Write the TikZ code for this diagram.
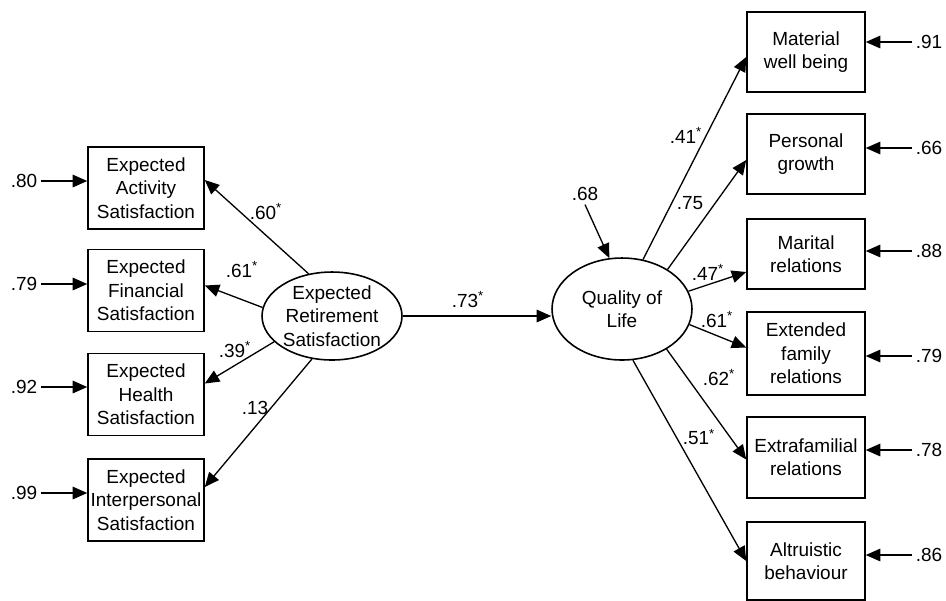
\documentclass[tikz,border=0pt]{standalone}
\usepackage{fontspec}
\setmainfont{Liberation Sans}
\usetikzlibrary{shapes.geometric,arrows.meta,calc}

\newcommand{\signif}{\textsuperscript{*}}

\begin{document}
\begin{tikzpicture}[
    x=0.02cm, y=-0.02cm,
    font=\fontsize{10.8}{13.3}\selectfont,
    >={Triangle[length=0.29cm,width=0.25cm]},
    conn/.style={->, line width=0.75pt},
    obs/.style={draw, line width=0.9pt, align=center, inner sep=1pt,
      minimum width=2.32cm, minimum height=1.64cm},
    obsr/.style={obs, minimum width=2.36cm, minimum height=1.6cm},
    latent/.style={draw, ellipse, line width=0.9pt, align=center, inner sep=0pt},
    coef/.style={inner sep=1pt},
    err/.style={inner sep=2pt}
  ]
  \useasboundingbox (0,0) rectangle (946,600);

  % Latent variables
  \node[latent, minimum width=2.8cm, minimum height=1.76cm] (ers) at (332,316)
    {Expected\\Retirement\\Satisfaction};
  \node[latent, minimum width=2.8cm, minimum height=2.04cm] (qol) at (622,309)
    {Quality of\\Life};

  % Expected satisfaction indicators
  \node[obs] (act) at (146,188) {Expected\\Activity\\Satisfaction};
  \node[obs] (fin) at (146,290.5) {Expected\\Financial\\Satisfaction};
  \node[obs] (hea) at (146,394.5) {Expected\\Health\\Satisfaction};
  \node[obs] (int) at (146,500) {Expected\\Interpersonal\\Satisfaction};

  % Quality of life indicators
  \node[obsr] (mat) at (806,52) {Material\\well being};
  \node[obsr] (per) at (806,154) {Personal\\growth};
  \node[obsr, minimum height=1.4cm] (mar) at (806,254) {Marital\\relations};
  \node[obsr, minimum height=1.66cm] (ext) at (806,353.5) {Extended\\family\\relations};
  \node[obsr, minimum height=1.62cm] (efr) at (806,457.5) {Extrafamilial\\relations};
  \node[obsr, minimum height=1.56cm] (alt) at (806,561) {Altruistic\\behaviour};

  % Error terms, left
  \node[err] (e1) at (24,181) {.80};
  \node[err] (e2) at (24,284) {.79};
  \node[err] (e3) at (24,387) {.92};
  \node[err] (e4) at (24,493) {.99};
  \draw[conn] (e1.east) -- (e1.east -| act.west);
  \draw[conn] (e2.east) -- (e2.east -| fin.west);
  \draw[conn] (e3.east) -- (e3.east -| hea.west);
  \draw[conn] (e4.east) -- (e4.east -| int.west);

  % Error terms, right
  \node[err] (r1) at (929,42) {.91};
  \node[err] (r2) at (929,148) {.66};
  \node[err] (r3) at (929,251) {.88};
  \node[err] (r4) at (929,356) {.79};
  \node[err] (r5) at (929,450) {.78};
  \node[err] (r6) at (929,555) {.86};
  \draw[conn] (r1.west) -- (r1.west -| mat.east);
  \draw[conn] (r2.west) -- (r2.west -| per.east);
  \draw[conn] (r3.west) -- (r3.west -| mar.east);
  \draw[conn] (r4.west) -- (r4.west -| ext.east);
  \draw[conn] (r5.west) -- (r5.west -| efr.east);
  \draw[conn] (r6.west) -- (r6.west -| alt.east);

  % Disturbance of quality of life
  \node[err] (dq) at (585,194) {.68};
  \draw[conn] (dq.south) -- (qol.104);

  % Loadings of expected retirement satisfaction
  \draw[conn] (ers.119) -- ($(act.east)+(0,-8)$);
  \draw[conn] (ers.173) -- ($(fin.east)+(0,-5)$);
  \draw[conn] (ers.204) -- ($(hea.east)+(0,-11)$);
  \draw[conn] (ers.245) -- ($(int.east)+(0,-13)$);
  \node[coef] (w1) at (266,212) {.60\signif};
  \node[coef] (w2) at (242,270) {.61\signif};
  \node[coef] (w3) at (235,350) {.39\signif};
  \node[coef] (w4) at (255,408) {.13};

  % Structural path
  \draw[conn] (ers.east) -- (ers.east -| qol.west);
  \node[coef] (b1) at (468,300) {.73\signif};

  % Loadings of quality of life
  \draw[conn] (qol.67) -- ($(mat.west)+(0,5)$);
  \draw[conn] (qol.41) -- ($(per.west)+(0,6)$);
  \draw[conn] (qol.15) -- ($(mar.west)+(0,18)$);
  \draw[conn] (qol.347) -- ($(ext.west)+(0,-6)$);
  \draw[conn] (qol.318) -- ($(efr.west)+(0,2)$);
  \draw[conn] (qol.282) -- (alt.west);
  \node[coef] (q1) at (686,135) {.41\signif};
  \node[coef] (q2) at (690,203) {.75};
  \node[coef] (q3) at (708,272) {.47\signif};
  \node[coef] (q4) at (717,320) {.61\signif};
  \node[coef] (q5) at (719,378) {.62\signif};
  \node[coef] (q6) at (699,437) {.51\signif};

\end{tikzpicture}
\end{document}
